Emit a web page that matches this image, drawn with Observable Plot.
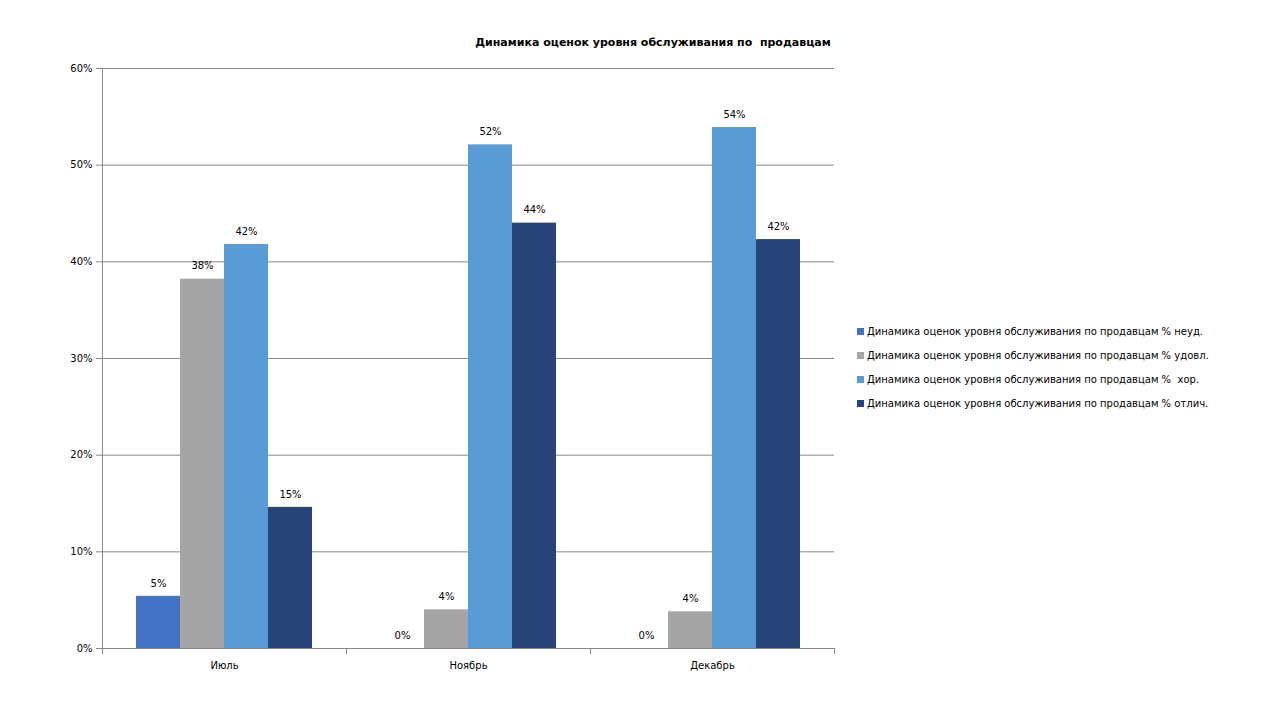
<!DOCTYPE html>
<html><head><meta charset="utf-8">
<script src="https://cdn.jsdelivr.net/npm/d3@7"></script>
<script src="https://cdn.jsdelivr.net/npm/@observablehq/plot@0.6"></script>
<style>
body{margin:0;background:#fff;}
#wrap{position:relative;width:1280px;height:720px;font-family:"DejaVu Sans",sans-serif;color:#000;}
#chart{position:absolute;left:0;top:0;}
#title{position:absolute;left:453px;top:36px;width:400px;text-align:center;font-weight:bold;font-size:11px;white-space:pre;}
#legend{position:absolute;left:857px;top:319px;font-size:10px;}
.li{height:24px;display:flex;align-items:center;white-space:pre;}
.sw{width:7px;height:7px;margin-right:3px;}
</style></head><body>
<div id="wrap"><div id="chart"></div><div id="title"></div><div id="legend"></div></div>
<script>
const titleText = "Динамика оценок уровня обслуживания по  продавцам";
const months = ["Июль", "Ноябрь", "Декабрь"];
const seriesKeys = ["неуд.", "удовл.", "хор.", "отлич."];
const seriesNames = [
  "Динамика оценок уровня обслуживания по продавцам % неуд.",
  "Динамика оценок уровня обслуживания по продавцам % удовл.",
  "Динамика оценок уровня обслуживания по продавцам %  хор.",
  "Динамика оценок уровня обслуживания по продавцам % отлич."
];
const colors = ["#4472C4", "#A5A5A5", "#5B9BD5", "#264478"];
const neud = [5.4, 0, 0];
const udovl = [38.2, 4.0, 3.8];
const khor = [41.8, 52.1, 53.9];
const otlich = [14.6, 44.0, 42.3];
const yTicks = [0, 10, 20, 30, 40, 50, 60];

const seriesValues = [neud, udovl, khor, otlich];
const data = [];
months.forEach((m, i) => seriesKeys.forEach((s, j) => data.push({month: m, series: s, value: seriesValues[j][i]})));

const grey = "#868686";
const chart = Plot.plot({
  width: 1280, height: 720,
  marginLeft: 101, marginRight: 445, marginTop: 68, marginBottom: 72,
  style: {fontFamily: "DejaVu Sans", fontSize: "10px", color: "#000", background: "transparent"},
  fx: {domain: months, padding: 0, label: null},
  x: {domain: seriesKeys, paddingInner: 0, paddingOuter: 0.75, axis: null},
  y: {domain: [0, 60], label: null},
  color: {domain: seriesKeys, range: colors},
  marks: [
    Plot.gridY(yTicks, {stroke: grey, strokeOpacity: 1}),
    Plot.barY(data, {fx: "month", x: "series", y: "value", fill: "series"}),
    Plot.text(data, {fx: "month", x: "series", y: "value", text: d => Math.round(d.value) + "%", dy: -13, fill: "#000"}),
    Plot.ruleY([0], {stroke: grey}),
    Plot.frame({anchor: "left", facetAnchor: "left", stroke: grey}),
    Plot.frame({anchor: "left", insetTop: 580, insetBottom: -5, stroke: grey}),
    Plot.frame({anchor: "right", insetTop: 580, insetBottom: -5, stroke: grey}),
    Plot.axisY(yTicks, {tickSize: 6, tickPadding: 4, tickFormat: d => d + "%", stroke: grey, fill: "#000", label: null}),
    Plot.axisFx({anchor: "bottom", tickSize: 0, tickPadding: 13, label: null, fill: "#000"})
  ]
});
document.getElementById("chart").appendChild(chart);
document.getElementById("title").textContent = titleText;
const lg = document.getElementById("legend");
seriesNames.forEach((n, i) => {
  const row = document.createElement("div");
  row.className = "li";
  const sw = document.createElement("span");
  sw.className = "sw";
  sw.style.background = colors[i];
  const t = document.createElement("span");
  t.textContent = n;
  row.appendChild(sw); row.appendChild(t);
  lg.appendChild(row);
});
</script>
</body></html>
